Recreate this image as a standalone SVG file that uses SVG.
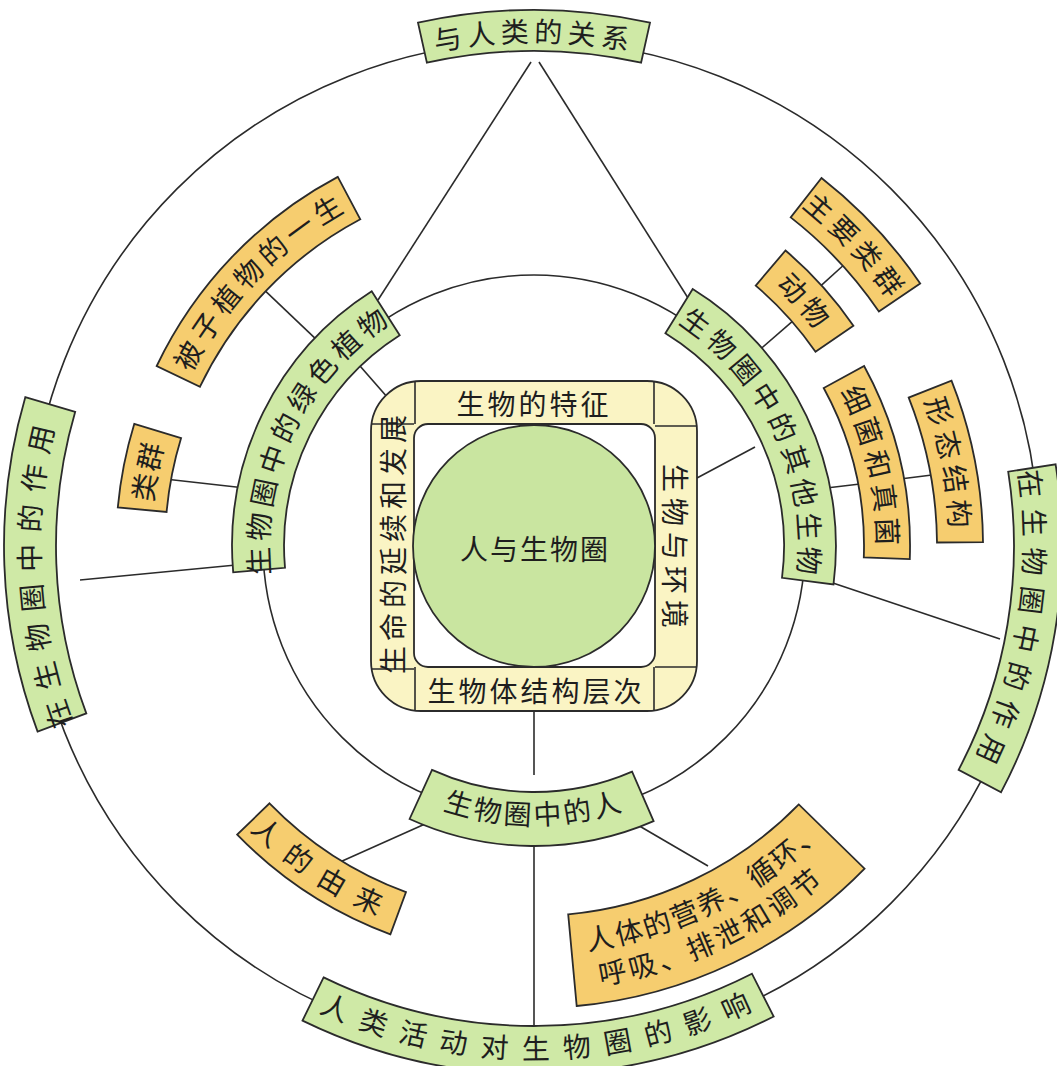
<svg xmlns="http://www.w3.org/2000/svg" width="1057" height="1066" viewBox="0 0 1057 1066">
<style>
.g{fill:#cfe9a6;stroke:#2b2b2b;stroke-width:1.8}
.o{fill:#f6cd6f;stroke:#2b2b2b;stroke-width:1.8}
.y{fill:#faf4c4;stroke:#2b2b2b;stroke-width:1.8}
.ln{fill:none;stroke:#2b2b2b;stroke-width:1.6}
text{font-family:"Noto Sans CJK SC","Noto Sans CJK JP",sans-serif;fill:#1e1e1e;font-size:28px}
</style>
<defs>
<path id="tp-top" d="M 321,89.2 A 504 504 0 0 1 747,89.2"/>
<path id="tp-plant" d="M 285.0,636.6 A 265 265 0 0 1 452.1,294.0"/>
<path id="tp-other" d="M 624.6,297.0 A 265 265 0 0 1 783.0,636.6"/>
<path id="tp-human" d="M 354.7,759.7 A 279 279 0 0 0 713.3,759.7"/>
<path id="tp-left" d="M 155.6,863.5 A 494 494 0 0 1 124.5,269.8"/>
<path id="tp-right" d="M 966.6,316.0 A 490 490 0 0 1 874.4,898.5"/>
<path id="tp-bottom" d="M 177.6,915.0 A 513 513 0 0 0 903.0,902.4"/>
<path id="tp-seed" d="M 150,546 A 384 384 0 0 1 520.6,162.2"/>
<path id="tp-group" d="M 173.6,677.2 A 383.5 383.5 0 0 1 249.0,289.4"/>
<path id="tp-animal" d="M 595.6,196.4 A 355 355 0 0 1 888.1,521.2"/>
<path id="tp-main" d="M 609.0,120.6 A 432 432 0 0 1 963.6,500.8"/>
<path id="tp-bact" d="M 754.5,283.2 A 343 343 0 0 1 847.3,685.5"/>
<path id="tp-form" d="M 812.4,236.9 A 416 416 0 0 1 907.9,728.4"/>
<path id="tp-origin" d="M 156.7,683.3 A 401.5 401.5 0 0 0 562.0,946.5"/>
<path id="tp-l1" d="M 588.0,950.4 A 408 408 0 0 0 887.3,750.0"/>
<path id="tp-l2" d="M 600.4,985.0 A 444 444 0 0 0 918.5,768.0"/>
</defs>
<rect width="1057" height="1066" fill="#ffffff"/>

<g id="connectors" class="ln">
<circle cx="534" cy="546" r="505"/>
<circle cx="534" cy="546" r="271"/>
<path d="M531,62 L378,300"/>
<path d="M539,62 L688,298"/>
<path d="M317.8,340.9 L264.2,289.9"/>
<path d="M165,479 L245,488"/>
<path d="M388,398 L360,366"/>
<path d="M80,580 L236,565"/>
<path d="M758.9,350.5 L794.4,319.7"/>
<path d="M819.9,286.6 L844.3,264.5"/>
<path d="M818,489 L860,484"/>
<path d="M900,479 L932,475"/>
<path d="M697,478 L755,447"/>
<path d="M815,577 L1000,639"/>
<path d="M534,711 L534,775"/>
<path d="M534,815 L534,1026"/>
<path d="M425,824 L340,862"/>
<path d="M636,824 L708,866"/>
</g>

<g id="center">
<rect x="371" y="381" width="326" height="330" rx="50" class="y"/>
<rect x="414" y="424" width="241" height="243" rx="14" fill="#ffffff" stroke="#2b2b2b" stroke-width="1.8"/>
<circle cx="534" cy="546" r="121" fill="#c9e5a0" stroke="#2b2b2b" stroke-width="1.8"/>
<path class="ln" d="M415,381 V424 M371,424 H414 M654,381 V424 M655,426 H697 M654,667 V711 M655,667 H697 M415,667 V711 M371,669 H414"/>
<text x="534" y="403" text-anchor="middle" dominant-baseline="central" font-size="26" letter-spacing="3">生物的特征</text>
<text x="536" y="690" text-anchor="middle" dominant-baseline="central" font-size="26" letter-spacing="3">生物体结构层次</text>
<text transform="translate(676,546) rotate(90)" x="3" y="0" text-anchor="middle" dominant-baseline="central" font-size="26" letter-spacing="6">生物与环境</text>
<text transform="translate(392,544) rotate(-90)" x="2" y="0" text-anchor="middle" dominant-baseline="central" font-size="26" letter-spacing="5">生命的延续和发展</text>
<text x="535" y="548" text-anchor="middle" dominant-baseline="central" font-size="31" letter-spacing="2">人与生物圈</text>
</g>

<g id="node-top">
<path class="g" d="M 418.0,22.7 A 536 536 0 0 1 650.0,22.7 L 641.1,62.7 A 495 495 0 0 0 426.9,62.7 Z"/>
<text font-size="29" letter-spacing="5"><textPath href="#tp-top" startOffset="50%" text-anchor="middle">与人类的关系</textPath></text>
</g>

<g id="node-plant">
<path class="g" d="M 233.2,572.3 A 302 302 0 0 1 371.7,291.3 L 399.7,335.2 A 250 250 0 0 0 285.0,567.8 Z"/>
<text font-size="28" letter-spacing="5"><textPath href="#tp-plant" startOffset="50%" text-anchor="middle">生物圈中的绿色植物</textPath></text>
</g>

<g id="node-other">
<path class="g" d="M 692.7,289.1 A 302 302 0 0 1 833.5,584.4 L 782.0,577.8 A 250 250 0 0 0 665.4,333.3 Z"/>
<text font-size="28" letter-spacing="5"><textPath href="#tp-other" startOffset="50%" text-anchor="middle">生物圈中的其他生物</textPath></text>
</g>

<g id="node-human">
<path class="g" d="M 432.0,769.9 A 246 246 0 0 0 632.1,771.6 L 653.6,821.1 A 300 300 0 0 1 409.6,819.0 Z"/>
<text font-size="28" letter-spacing="3"><textPath href="#tp-human" startOffset="50%" text-anchor="middle">生物圈中的人</textPath></text>
</g>

<g id="node-left">
<path class="g" d="M 37.6,731.6 A 530 530 0 0 1 25.3,397.2 L 75.2,411.8 A 478 478 0 0 0 86.3,713.4 Z"/>
<text font-size="27" letter-spacing="11"><textPath href="#tp-left" startOffset="50%" text-anchor="middle">在生物圈中的作用</textPath></text>
</g>

<g id="node-right">
<path class="g" d="M 1055.6,464.3 A 528 528 0 0 1 1001.1,792.2 L 958.6,769.8 A 480 480 0 0 0 1008.2,471.7 Z"/>
<text font-size="27" letter-spacing="10"><textPath href="#tp-right" startOffset="50%" text-anchor="middle">在生物圈中的作用</textPath></text>
</g>

<g id="node-bottom">
<path class="g" d="M 323.6,977.4 A 480 480 0 0 0 751.9,973.7 L 773.7,1016.5 A 528 528 0 0 1 302.5,1020.6 Z"/>
<text font-size="28" letter-spacing="14"><textPath href="#tp-bottom" startOffset="50%" text-anchor="middle">人类活动对生物圈的影响</textPath></text>
</g>

<g id="node-seed">
<path class="o" d="M 156.7,366.0 A 418 418 0 0 1 337.8,176.9 L 360.3,219.3 A 370 370 0 0 0 200.0,386.7 Z"/>
<text font-size="28" letter-spacing="5"><textPath href="#tp-seed" startOffset="50%" text-anchor="middle">被子植物的一生</textPath></text>
</g>

<g id="node-group">
<path class="o" d="M 117.8,507.4 A 418 418 0 0 1 134.3,423.8 L 181.1,438.1 A 369 369 0 0 0 166.6,511.9 Z"/>
<text font-size="28" letter-spacing="2"><textPath href="#tp-group" startOffset="50%" text-anchor="middle">类群</textPath></text>
</g>

<g id="node-animal">
<path class="o" d="M 785.5,250.5 A 388 388 0 0 1 853.4,325.7 L 815.5,351.8 A 342 342 0 0 0 755.7,285.6 Z"/>
<text font-size="28" letter-spacing="4"><textPath href="#tp-animal" startOffset="50%" text-anchor="middle">动物</textPath></text>
</g>

<g id="node-main">
<path class="o" d="M 821.5,178.0 A 467 467 0 0 1 920.2,283.5 L 878.9,311.6 A 417 417 0 0 0 790.7,217.4 Z"/>
<text font-size="28" letter-spacing="5"><textPath href="#tp-main" startOffset="50%" text-anchor="middle">主要类群</textPath></text>
</g>

<g id="node-bact">
<path class="o" d="M 864.1,366.0 A 376 376 0 0 1 909.8,559.1 L 863.8,557.5 A 330 330 0 0 0 823.7,388.0 Z"/>
<text font-size="28" letter-spacing="5"><textPath href="#tp-bact" startOffset="50%" text-anchor="middle">细菌和真菌</textPath></text>
</g>

<g id="node-form">
<path class="o" d="M 951.5,380.7 A 449 449 0 0 1 983.0,542.1 L 937.0,542.5 A 403 403 0 0 0 908.7,397.6 Z"/>
<text font-size="28" letter-spacing="6"><textPath href="#tp-form" startOffset="50%" text-anchor="middle">形态结构</textPath></text>
</g>

<g id="node-origin">
<path class="o" d="M 269.5,803.3 A 369 369 0 0 0 406.0,892.1 L 390.4,934.3 A 414 414 0 0 1 237.2,834.6 Z"/>
<text font-size="28" letter-spacing="14"><textPath href="#tp-origin" startOffset="50%" text-anchor="middle">人的由来</textPath></text>
</g>

<g id="node-body">
<path class="o" d="M 568.2,914.4 A 370 370 0 0 0 798.8,804.4 L 864.6,868.7 A 462 462 0 0 1 576.7,1006.0 Z"/>
<text font-size="27" letter-spacing="2"><textPath href="#tp-l1">人体的营养、循环、</textPath></text>
<text font-size="27" letter-spacing="3.5"><textPath href="#tp-l2">呼吸、排泄和调节</textPath></text>
</g>
</svg>
